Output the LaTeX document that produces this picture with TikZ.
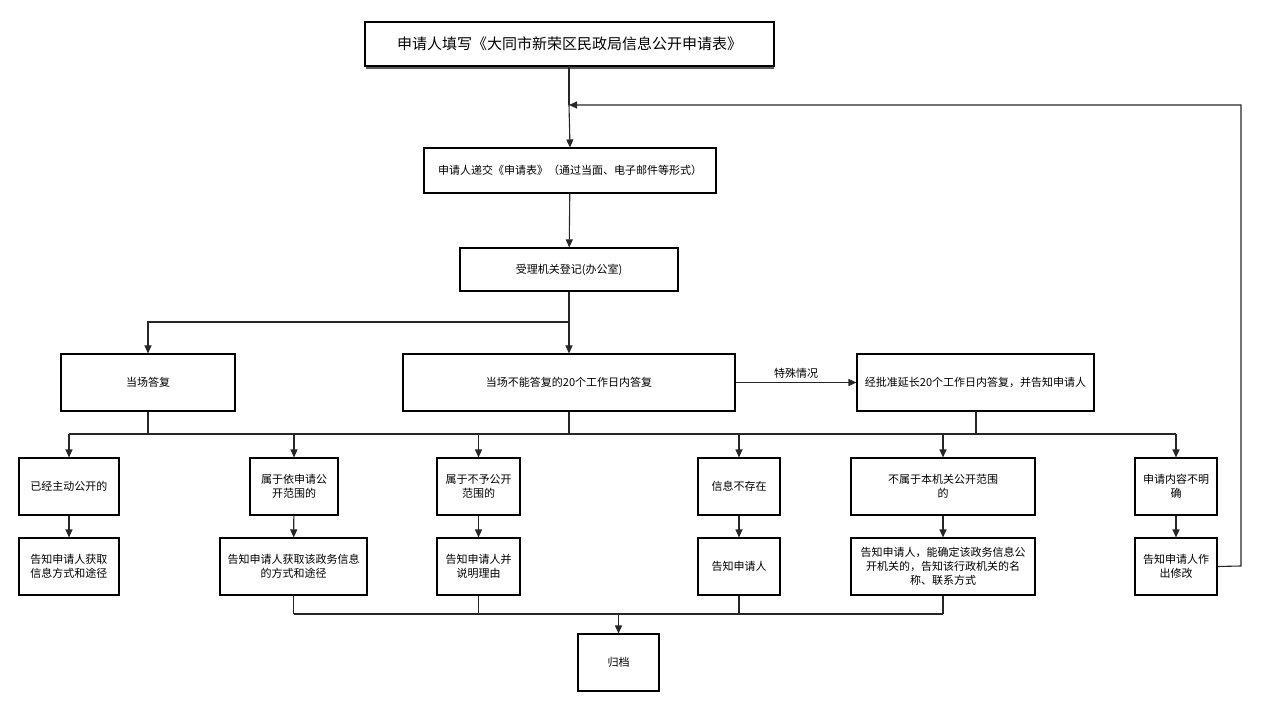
\documentclass[tikz,border=0pt]{standalone}
\usepackage{fontspec}
\setmainfont{Noto Sans CJK SC}
\usetikzlibrary{arrows.meta}
\begin{document}
\begin{tikzpicture}[x=1pt,y=-1pt,
 box/.style={draw,line width=1.1pt,fill=white,align=center,font=\fontsize{11}{14}\selectfont,inner sep=0pt},
 ar/.style={-{Triangle[length=8pt,width=7pt]},line width=1.1pt,draw=black!85},
 ln/.style={line width=1.1pt,draw=black!85}]
\useasboundingbox (0,0) rectangle (1261,708);
\newcommand{\bx}[6]{\pgfmathsetmacro\bw{#4-#2}\pgfmathsetmacro\bh{#5-#3}\node[box,minimum width=\bw pt,minimum height=\bh pt] (#1) at ({(#2+#4)/2},{(#3+#5)/2}) {#6};}
\draw[line width=2pt,gray!70!black] (366,68) -- (774,68);
\bx{top}{365}{22}{774}{66}{\fontsize{15}{18}\selectfont 申请人填写《大同市新荣区民政局信息公开申请表》}
\bx{sub}{424}{148}{716}{193}{申请人递交《申请表》（通过当面、电子邮件等形式）}
\bx{reg}{460}{248}{678}{291}{受理机关登记(办公室)}
\bx{dc}{61}{354}{235}{411}{当场答复}
\bx{d20}{403}{354}{735}{411}{当场不能答复的20个工作日内答复}
\bx{ext}{857}{354}{1094}{411}{经批准延长20个工作日内答复，并告知申请人}
\bx{a3}{19}{458}{119}{515}{已经主动公开的}
\bx{b3}{250}{458}{338}{515}{属于依申请公\\开范围的}
\bx{c3}{437}{458}{520}{515}{属于不予公开\\范围的}
\bx{d3}{698}{458}{780}{515}{信息不存在}
\bx{e3}{851}{458}{1035}{515}{不属于本机关公开范围\\的}
\bx{f3}{1135}{458}{1217}{515}{申请内容不明\\确}
\bx{a4}{19}{538}{119}{595}{告知申请人获取\\信息方式和途径}
\bx{b4}{220}{538}{367}{595}{告知申请人获取该政务信息\\的方式和途径}
\bx{c4}{437}{538}{520}{595}{告知申请人并\\说明理由}
\bx{d4}{698}{538}{780}{595}{告知申请人}
\bx{e4}{851}{538}{1035}{595}{告知申请人，能确定该政务信息公\\开机关的，告知该行政机关的名\\称、联系方式}
\bx{f4}{1135}{538}{1217}{595}{告知申请人作\\出修改}
\bx{gd}{578}{634}{659}{691}{归档}
\coordinate (loop) at (569,105);
\draw[ln] (569,66) -- (loop);
\draw[ar] (loop) -- (sub.north);
\draw[ar] (f4.east) -- (1241,566) -- (1241,105) -- (loop);
\draw[ar] (sub) -- (reg);
\coordinate (sp) at (569,322);
\draw[ln] (reg.south) -- (sp);
\draw[ar] (sp) -- (148,322) -- (dc.north);
\draw[ar] (sp) -- (d20.north);
\draw[ar] (d20.east) -- node[above,font=\fontsize{11}{13}\selectfont]{特殊情况} (ext.west);
\draw[ln] (dc.south) -- (148,434);
\draw[ln] (d20.south) -- (569,434);
\draw[ln] (976,411) -- (976,434);
\draw[ln] (69,434) -- (1176,434);
\foreach \n in {a3,b3,c3,d3,e3,f3} \draw[ar] (\n.north |- 0,434) -- (\n.north);
\foreach \u/\d in {a3/a4,b3/b4,c3/c4,d3/d4,e3/e4,f3/f4} \draw[ar] (\u) -- (\d);
\foreach \n in {b4,c4,d4,e4} \draw[ln] (\n.south) -- (\n.south |- 0,614);
\draw[ln] (294,614) -- (943,614);
\draw[ar] (618.5,614) -- (gd.north);
\end{tikzpicture}
\end{document}
